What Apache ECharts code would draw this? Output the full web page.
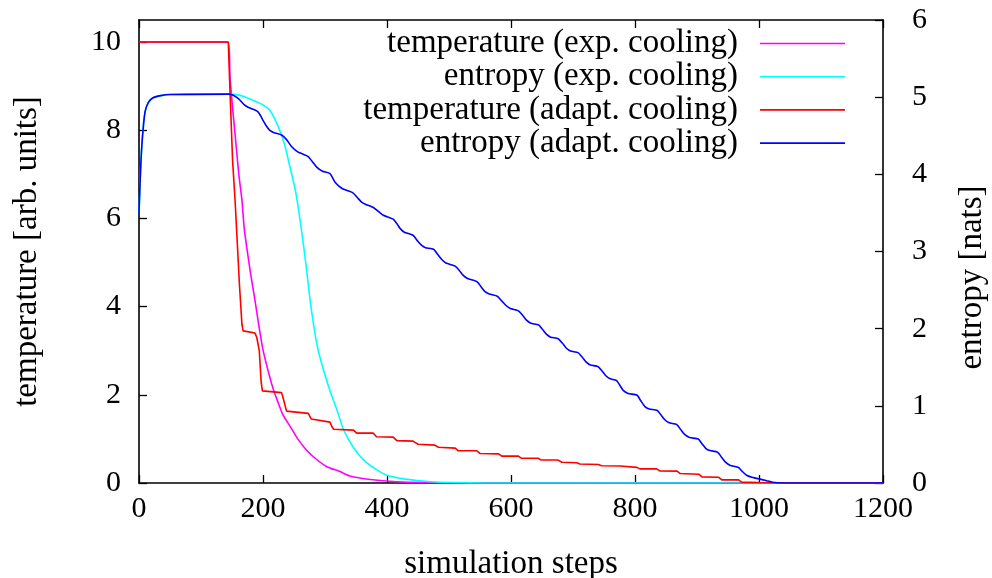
<!DOCTYPE html>
<html><head><meta charset="utf-8">
<script src="https://cdn.jsdelivr.net/npm/echarts@6/dist/echarts.min.js"></script>
<style>html,body{margin:0;padding:0;background:#fff}#c{width:992px;height:578px}</style>
</head><body><div id="c"></div><script>
const seriesNames = ['temperature (exp. cooling)', 'entropy (exp. cooling)', 'temperature (adapt. cooling)', 'entropy (adapt. cooling)'];
const xAxisName = 'simulation steps';
const yLeftName = 'temperature [arb. units]';
const yRightName = 'entropy [nats]';

// [simulation step, temperature]
const tempExp = [[0,10],[143,10],[147,9.14],[155,7.9],[161,7.0],[166,6.42],[170,5.74],[180,4.75],[187,4.15],[193,3.6],[200,3.02],[210,2.45],[217,2.11],[223,1.88],[232,1.55],[244,1.28],[256,1.0],[270,0.75],[285,0.55],[303,0.37],[324,0.26],[340,0.16],[373,0.08],[416,0.03],[470,0.01],[520,0],[1200,0]];
// [simulation step, entropy]
const entExp = [[0,3.5],[2,3.95],[4,4.3],[7,4.62],[10,4.82],[15,4.93],[22,4.99],[35,5.02],[50,5.035],[145,5.04],[160,5.03],[172,5.0],[184,4.96],[200,4.9],[211,4.83],[220,4.7],[227,4.57],[235,4.38],[241,4.18],[252,3.80],[257,3.56],[262,3.28],[269,2.85],[276,2.37],[282,2.03],[289,1.72],[300,1.40],[310,1.15],[320,0.93],[330,0.69],[345,0.47],[362,0.30],[380,0.19],[400,0.10],[430,0.05],[470,0.017],[520,0.005],[560,0],[1200,0]];
// [simulation step, temperature]
const tempAdapt = [[0,10],[144,10],[147,8.8],[151,7.3],[155,6.4],[162,4.5],[166,3.6],[168,3.45],[187,3.40],[190,3.3],[194,3.0],[197,2.3],[199,2.09],[230,2.05],[233,1.9],[238,1.63],[273,1.58],[278,1.45],[281,1.41],[308,1.38],[311,1.28],[314,1.22],[346,1.20],[351,1.13],[378,1.13],[383,1.05],[410,1.04],[416,0.96],[442,0.95],[450,0.88],[477,0.86],[483,0.81],[510,0.79],[515,0.73],[545,0.73],[550,0.67],[580,0.66],[585,0.61],[612,0.61],[617,0.56],[644,0.56],[649,0.52],[676,0.52],[682,0.47],[706,0.46],[711,0.43],[741,0.42],[746,0.39],[776,0.385],[779,0.36],[803,0.355],[808,0.32],[835,0.32],[840,0.275],[868,0.27],[873,0.215],[903,0.20],[908,0.14],[935,0.13],[940,0.07],[967,0.07],[972,0.02],[1000,0.01],[1040,0],[1200,0]];
// [simulation step, entropy]
const entAdapt = [[0,3.5],[2,3.95],[4,4.3],[7,4.62],[10,4.82],[15,4.93],[22,4.99],[35,5.02],[50,5.035],[145,5.04],[150,5.03],[157,5.0],[163,4.96],[170,4.90],[176,4.87],[185,4.84],[192,4.81],[196,4.76],[200,4.70],[206,4.62],[211,4.57],[218,4.54],[230,4.51],[238,4.45],[246,4.36],[256,4.29],[265,4.26],[273,4.23],[280,4.16],[287,4.09],[296,4.04],[308,4.01],[316,3.90],[322,3.85],[329,3.81],[345,3.76],[352,3.70],[359,3.64],[366,3.61],[378,3.57],[386,3.52],[394,3.47],[410,3.42],[416,3.36],[421,3.30],[428,3.25],[442,3.21],[449,3.14],[456,3.08],[462,3.05],[475,3.03],[482,2.96],[488,2.90],[495,2.85],[510,2.81],[517,2.75],[523,2.69],[530,2.65],[545,2.61],[552,2.54],[558,2.48],[565,2.45],[578,2.42],[585,2.36],[592,2.30],[599,2.26],[612,2.23],[619,2.17],[625,2.11],[632,2.07],[644,2.05],[651,1.99],[657,1.93],[664,1.89],[676,1.87],[683,1.81],[689,1.75],[696,1.71],[708,1.69],[715,1.63],[721,1.57],[728,1.53],[740,1.51],[747,1.45],[753,1.39],[760,1.35],[770,1.33],[776,1.26],[781,1.20],[789,1.16],[803,1.14],[809,1.07],[816,0.99],[823,0.96],[836,0.94],[842,0.88],[848,0.82],[855,0.78],[867,0.76],[874,0.69],[880,0.63],[888,0.59],[902,0.57],[908,0.51],[914,0.45],[921,0.42],[933,0.40],[940,0.33],[946,0.27],[953,0.23],[967,0.20],[973,0.15],[980,0.10],[990,0.07],[1002,0.05],[1012,0.03],[1022,0.01],[1035,0],[1200,0]];

const colors = ['#ff00ff', '#00ffff', '#ff0000', '#0000ff'];
const FONT = "'Liberation Serif', 'DejaVu Serif', serif";
const tickTxt = {color: '#000', fontFamily: FONT, fontSize: 30};
const nameTxt = {color: '#000', fontFamily: FONT, fontSize: 33};

const chart = echarts.init(document.getElementById('c'), null, {renderer: 'canvas'});
function mk(name, data, color, yIdx, smooth) {
  return {name, type: 'line', data, yAxisIndex: yIdx, symbol: 'none', smooth: smooth,
    lineStyle: {color, width: 1.6}, itemStyle: {color}, z: 2};
}
const line = {show: true, onZero: false, lineStyle: {color: '#000', width: 1.6}};
const tick = {show: true, inside: true, length: 8, lineStyle: {color: '#000', width: 1.3}};
chart.setOption({
  animation: false,
  backgroundColor: '#fff',
  grid: {left: 139, right: 109, top: 20, bottom: 95, containLabel: false, outerBoundsMode: 'none'},
  legend: {
    orient: 'vertical', right: 147, top: 27, align: 'right', padding: 0,
    icon: 'rect', itemWidth: 85, itemHeight: 1.6, itemGap: 0.2,
    textStyle: Object.assign({}, nameTxt, {lineHeight: 32, padding: [0, 17, 0, 0]}),
    data: seriesNames
  },
  xAxis: [{
    type: 'value', min: 0, max: 1200, interval: 200, position: 'bottom',
    name: xAxisName, nameLocation: 'middle', nameGap: 65, nameTextStyle: nameTxt,
    axisLine: line, axisTick: tick,
    axisLabel: Object.assign({margin: 11, formatter: v => String(v)}, tickTxt),
    splitLine: {show: false}
  }, {
    type: 'value', min: 0, max: 1200, interval: 200, position: 'top',
    axisLine: line, axisTick: tick,
    axisLabel: {show: false}, splitLine: {show: false}
  }],
  yAxis: [{
    type: 'value', min: 0, max: 10.5, interval: 2, position: 'left',
    name: yLeftName, nameLocation: 'middle', nameGap: 95, nameTextStyle: nameTxt,
    axisLine: line, axisTick: tick,
    axisLabel: Object.assign({margin: 18, showMaxLabel: false,
      formatter: v => (Math.abs(v % 2) < 1e-9 ? String(v) : '')}, tickTxt),
    splitLine: {show: false}
  }, {
    type: 'value', min: 0, max: 6, interval: 1, position: 'right',
    name: yRightName, nameLocation: 'middle', nameGap: 73,
    nameTextStyle: Object.assign({padding: [0, 52, 0, 0]}, nameTxt),
    axisLine: line, axisTick: tick,
    axisLabel: Object.assign({margin: 29, formatter: v => String(v)}, tickTxt),
    splitLine: {show: false}
  }],
  series: [
    mk(seriesNames[0], tempExp, colors[0], 0, 0.25),
    mk(seriesNames[1], entExp, colors[1], 1, 0.35),
    mk(seriesNames[2], tempAdapt, colors[2], 0, false),
    mk(seriesNames[3], entAdapt, colors[3], 1, 0.2)
  ]
});
</script></body></html>
